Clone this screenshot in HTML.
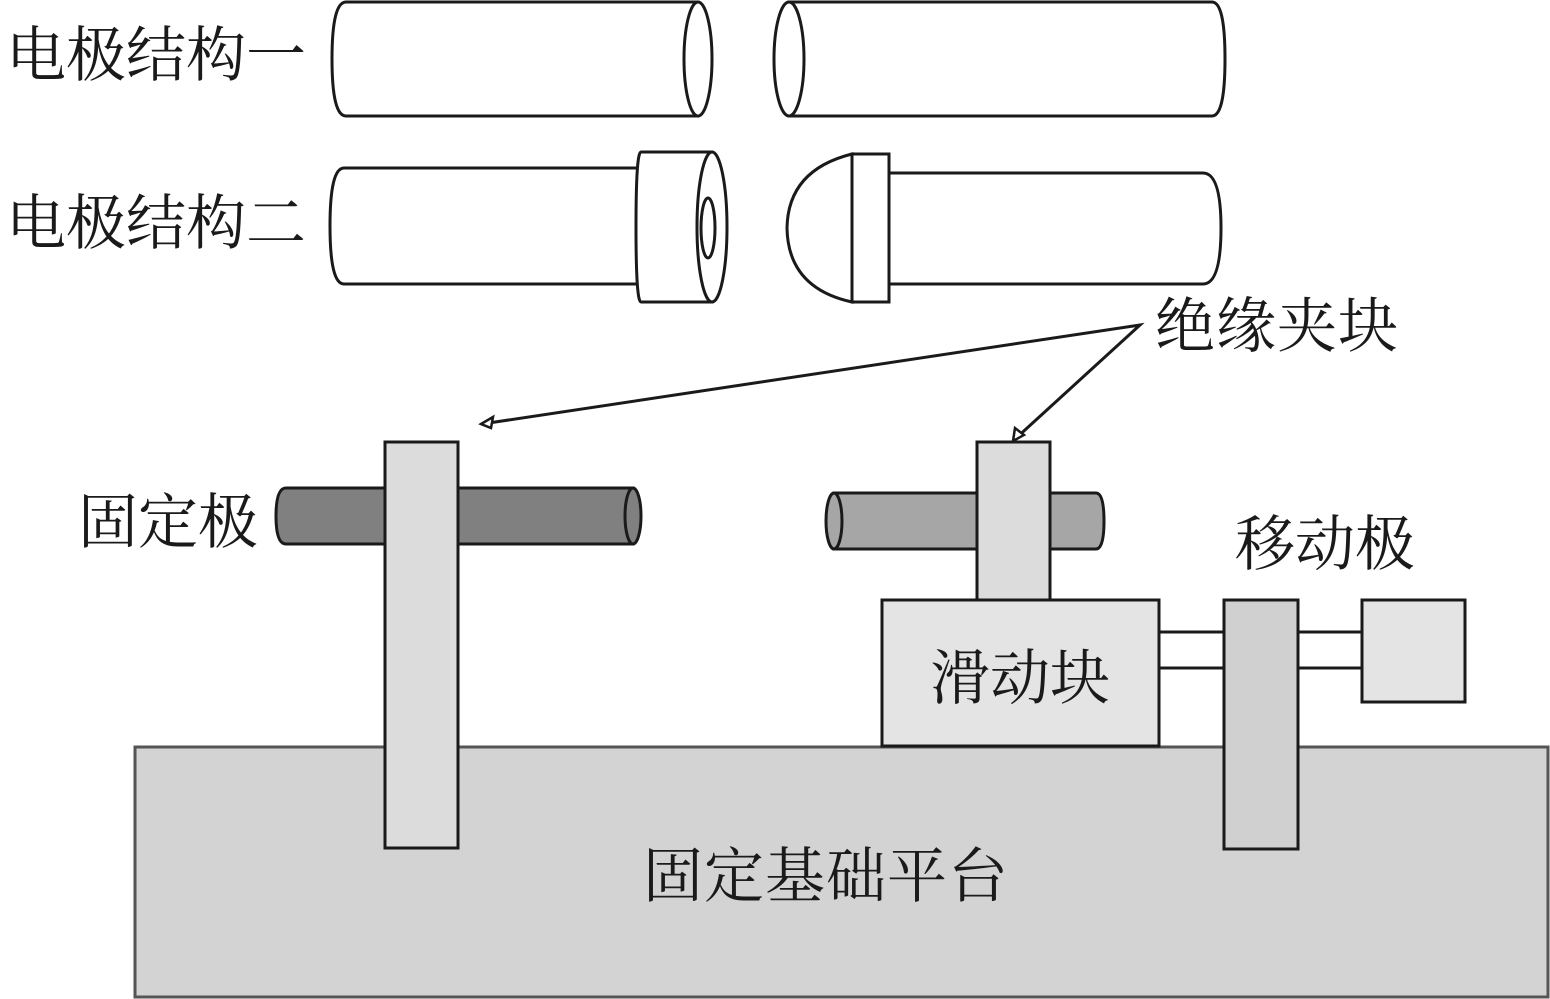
<!DOCTYPE html>
<html><head><meta charset="utf-8"><style>
html,body{margin:0;padding:0;background:#fff;}
svg{display:block;}
text{font-family:"Liberation Serif","Noto Serif CJK SC",serif;font-size:60px;fill:#1a1a1a;}
</style></head><body>
<svg width="1550" height="999" viewBox="0 0 1550 999" xmlns="http://www.w3.org/2000/svg">
<g fill="#fff" stroke="#1a1a1a" stroke-width="3">
<!-- row 1 left cylinder -->
<path d="M346 2 L698 2 L698 116 L346 116 Q332 116 332 59 Q332 2 346 2 Z"/>
<ellipse cx="698" cy="59" rx="14" ry="57"/>
<!-- row 1 right cylinder -->
<path d="M789 2 L1212 2 Q1225 2 1225 59 Q1225 116 1212 116 L789 116 Z"/>
<ellipse cx="789" cy="59" rx="15" ry="57"/>
<!-- row 2 left -->
<path d="M344 168 L640 168 L640 284 L344 284 Q330 284 330 226 Q330 168 344 168 Z"/>
<path d="M641 152 L712 152 L712 302 L641 302 Q636 302 636 227 Q636 152 641 152 Z"/>
<ellipse cx="712" cy="227" rx="15" ry="75"/>
<ellipse cx="708" cy="228" rx="7" ry="30"/>
<!-- row 2 right -->
<path d="M852 154 Q788 170 787 228 Q788 288 852 302 Z"/>
<rect x="852" y="154" width="37" height="148"/>
<path d="M889 173 L1203 173 Q1221 173 1221 228 Q1221 284 1203 284 L889 284 Z"/>
</g>
<!-- platform -->
<rect x="135" y="747" width="1413" height="250" fill="#d3d3d3" stroke="#555" stroke-width="3"/>
<g stroke="#1a1a1a" stroke-width="3">
<!-- fixed rod -->
<path d="M286 488 L633 488 L633 544 L286 544 Q276 544 276 516 Q276 488 286 488 Z" fill="#808080"/>
<ellipse cx="633" cy="516" rx="8" ry="28" fill="#808080"/>
<rect x="385" y="442" width="73" height="406" fill="#dcdcdc"/>
<!-- moving rod -->
<path d="M834 493 L1096 493 Q1104 493 1104 521 Q1104 549 1096 549 L834 549 Z" fill="#a6a6a6"/>
<ellipse cx="834" cy="521" rx="8" ry="28" fill="#a6a6a6"/>
<rect x="977" y="442" width="73" height="158" fill="#dcdcdc"/>
<rect x="882" y="600" width="277" height="146" fill="#e4e4e4"/>
<line x1="1159" y1="632" x2="1224" y2="632"/>
<line x1="1159" y1="668" x2="1224" y2="668"/>
<line x1="1298" y1="632" x2="1362" y2="632"/>
<line x1="1298" y1="668" x2="1362" y2="668"/>
<rect x="1224" y="600" width="74" height="249" fill="#d0d0d0"/>
<rect x="1362" y="600" width="103" height="102" fill="#e4e4e4"/>
<!-- arrows -->
<polyline points="482,424 1140,325 1014,440" fill="none"/>
</g>
<g fill="#fff" stroke="#1a1a1a" stroke-width="2.5">
<polygon points="481,424 493,417 491,428"/>
<polygon points="1013,441 1015,428 1024,435"/>
</g>
<text x="6" y="76">电极结构一</text>
<text x="6" y="244">电极结构二</text>
<text x="1155" y="347" letter-spacing="1">绝缘夹块</text>
<text x="78" y="543">固定极</text>
<text x="1235" y="565">移动极</text>
<text x="930" y="699">滑动块</text>
<text x="643" y="897" letter-spacing="1">固定基础平台</text>
</svg>
</body></html>
